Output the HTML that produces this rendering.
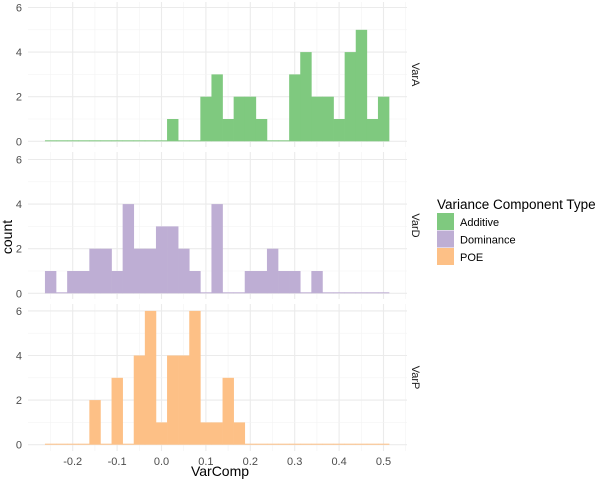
<!DOCTYPE html>
<html><head><meta charset="utf-8"><style>
body{margin:0;background:#fff;font-family:"Liberation Sans",sans-serif}
</style></head><body>
<svg id="chart" width="600" height="482" xmlns="http://www.w3.org/2000/svg" font-family="Liberation Sans, sans-serif"></svg>
<script>
const binStart = -0.2625;
const binWidth = 0.025;
const panelNames = ["VarA","VarD","VarP"];
const seriesLabels = ["Additive","Dominance","POE"];
const countsA = [0,0,0,0,0,0,0,0,0,0,0,1,0,0,2,3,1,2,2,1,0,0,3,4,2,2,1,4,5,1,2];
const countsD = [1,0,1,1,2,2,1,4,2,2,3,3,2,1,0,4,0,0,1,1,2,1,1,0,1,0,0,0,0,0,0];
const countsP = [0,0,0,0,2,0,3,0,4,6,1,4,4,6,1,1,3,1,0,0,0,0,0,0,0,0,0,0,0,0,0];
const xTicks = [-0.2,-0.1,0.0,0.1,0.2,0.3,0.4,0.5];
const yTicks = [0,2,4,6];
const colors = ["#7fc97f","#beaed4","#fdc086"];
const NS="http://www.w3.org/2000/svg";
const svg=document.getElementById('chart');
function el(t,a,p){const e=document.createElementNS(NS,t);for(const k in a)e.setAttribute(k,a[k]);(p||svg).appendChild(e);return e;}
const X=v=>161.5+(v)*444;
const PL=28,PR=407;
const panels=[{top:2,bottom:147,zero:141.3},{top:152,bottom:299,zero:293.3},{top:304,bottom:451,zero:444.7}];
const unit=22.3;
const allCounts=[countsA,countsD,countsP];
panels.forEach((p,i)=>{
  const g=el('g',{});
  
  
  const Y=c=>p.zero-c*unit;
  for(let v=-0.25;v<=0.551;v+=0.05){const x=X(v);if(x<PL||x>PR)continue;
    const major=Math.abs(Math.round(v*20)%2)===0;
    el('line',{x1:x,x2:x,y1:p.top,y2:p.bottom,stroke:major?'#ebebeb':'#f3f3f3','stroke-width':major?1.1:0.6},g);}
  for(let c=0;c<=6.5;c+=1){const y=Y(c);if(y<p.top)continue;
    el('line',{x1:PL,x2:PR,y1:y,y2:y,stroke:c%2===0?'#ebebeb':'#f3f3f3','stroke-width':c%2===0?1.1:0.6},g);}
  yTicks.forEach(t=>{const tx=el('text',{x:PL-6,y:Y(t)+4,'text-anchor':'end','font-size':11,fill:'#4d4d4d'},g);tx.textContent=t;});
  const counts=allCounts[i];
  counts.forEach((c,j)=>{
    const x0=X(binStart+j*binWidth),x1=X(binStart+(j+1)*binWidth);
    const h=Math.max(c*unit,1);
    const r=el('rect',{x:x0,y:p.zero-h,width:x1-x0+0.3,height:h,fill:colors[i]},g);
    
    
  });
  const st=el('text',{x:0,y:0,transform:`translate(412,${(p.top+p.bottom)/2}) rotate(90)`,'text-anchor':'middle','font-size':11,fill:'#1a1a1a'},g);
  
  
  st.textContent=panelNames[i];
});
xTicks.forEach(t=>{const tx=el('text',{x:X(t),y:465,'text-anchor':'middle','font-size':11,fill:'#4d4d4d'});
  
  tx.textContent=t.toFixed(1);});
const xt=el('text',{x:220,y:476,'text-anchor':'middle','font-size':14,fill:'#000'});
xt.textContent='VarComp';
const yt=el('text',{x:0,y:0,transform:'translate(12,237) rotate(-90)','text-anchor':'middle','font-size':14,fill:'#000'});
yt.textContent='count';
const lg=el('g',{});

const lt=el('text',{x:437,y:209,'font-size':13.5,fill:'#000'},lg);lt.textContent='Variance Component Type';
seriesLabels.forEach((s,i)=>{
  const e=el('g',{},lg);
  
  
  el('rect',{x:437,y:213+i*17.5,width:17,height:17,fill:colors[i]},e);
  const t=el('text',{x:460,y:226+i*17.5,'font-size':11,fill:'#000'},e);t.textContent=s;
});
</script>
</body></html>
